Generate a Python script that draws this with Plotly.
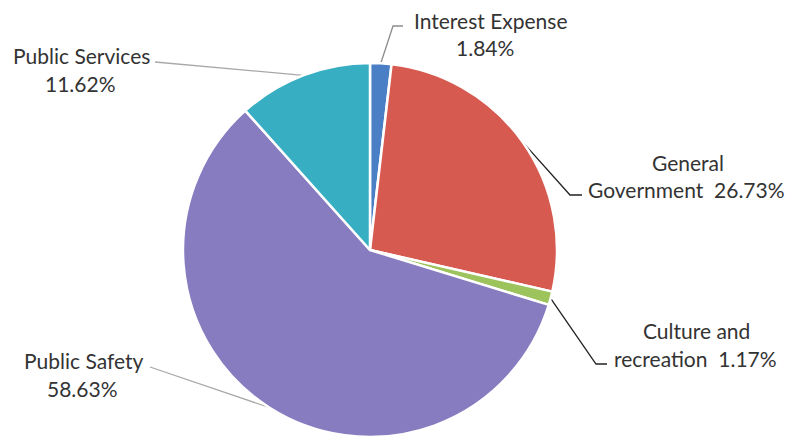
import math
import plotly.graph_objects as go

categories = ["Interest Expense", "General Government", "Culture and recreation", "Public Safety", "Public Services"]
values = [1.84, 26.73, 1.17, 58.63, 11.62]
colors = ["#4A7FC6", "#D65A4F", "#9CC35C", "#887CC0", "#38AEC3"]
label_lines = [
    ["Interest Expense", "1.84%"],
    ["General", "Government  26.73%"],
    ["Culture and", "recreation  1.17%"],
    ["Public Safety", "58.63%"],
    ["Public Services", "11.62%"],
]

W, H = 789, 437
CX, CY, R = 370, 250, 187

# label layout (pixels): line centers, leader elbow/end points
label_pos = [
    [(491, 20), (485, 47)],
    [(688, 162), (686, 189)],
    [(696, 330), (695, 358)],
    [(83, 360), (82, 388)],
    [(81, 55), (80, 83)],
]
leader_tail = [
    [(393, 26), (403, 26)],
    [(570, 195), (582, 195)],
    [(596, 364), (607, 364)],
    [(150, 367)],
    [(155, 62)],
]
leader_colors = ["#8C8C8C", "#222222", "#222222", "#A8A8A8", "#A8A8A8"]

fig = go.Figure()
fig.add_trace(go.Pie(
    labels=categories, values=values, sort=False, direction="clockwise", rotation=0,
    marker=dict(colors=colors, line=dict(color="white", width=2.5)),
    textinfo="none", hoverinfo="label+percent", showlegend=False,
    domain=dict(x=[(CX - R) / W, (CX + R) / W], y=[max(0, (H - CY - R) / H), (H - CY + R) / H]),
))

total = sum(values)
cum = 0
for i, v in enumerate(values):
    mid = (cum + v / 2) / total * 2 * math.pi
    cum += v
    ex = CX + R * math.sin(mid)
    ey = CY - R * math.cos(mid)
    pts = [(ex, ey)] + leader_tail[i]
    fig.add_trace(go.Scatter(
        x=[p[0] for p in pts], y=[p[1] for p in pts], mode="lines",
        line=dict(color=leader_colors[i], width=1.3), hoverinfo="skip", showlegend=False,
    ))
    for txt, (lx, ly) in zip(label_lines[i], label_pos[i]):
        fig.add_annotation(x=lx, y=ly, xref="x", yref="y", text=txt, showarrow=False,
                           font=dict(family="Lato", size=21, color="#333333"),
                           xanchor="center", yanchor="middle")

fig.update_layout(
    width=W, height=H, margin=dict(l=0, r=0, t=0, b=0),
    paper_bgcolor="white", plot_bgcolor="rgba(0,0,0,0)",
    xaxis=dict(range=[0, W], visible=False, fixedrange=True),
    yaxis=dict(range=[H, 0], visible=False, fixedrange=True),
)
fig.write_html("out.html")
